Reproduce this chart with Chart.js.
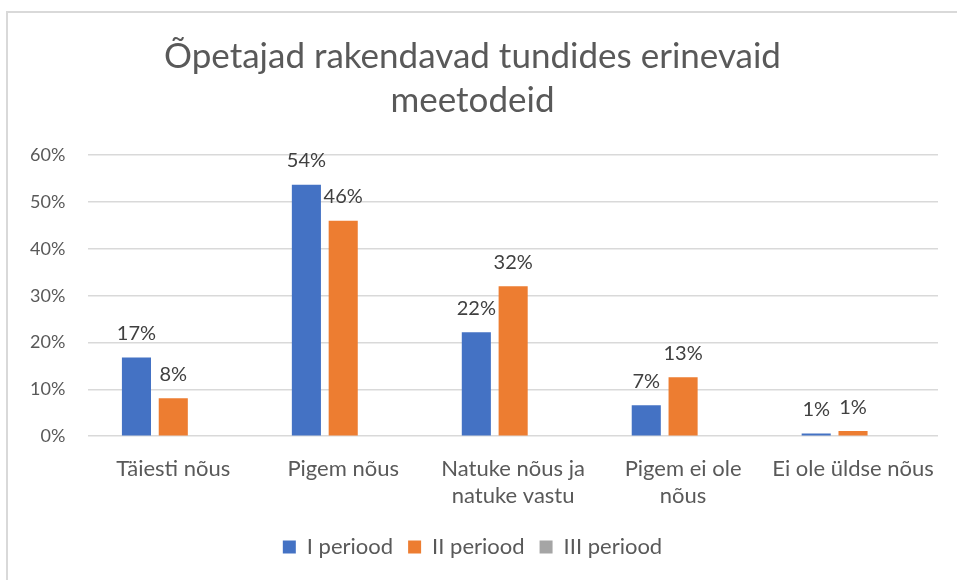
<!DOCTYPE html>
<html>
<head>
<meta charset="utf-8">
<script src="https://cdn.jsdelivr.net/npm/chart.js@4.4.1/dist/chart.umd.min.js"></script>
<style>
    body { margin: 0; background: #fff; overflow: hidden; }
    #wrap { position: absolute; left: 0; top: 0; width: 957px; height: 580px; }
    #frame { position: absolute; left: 6px; top: 11px; width: 960px; height: 600px; border: 2px solid #d9d9d9; box-sizing: border-box; }
</style>
</head>
<body>
<div id="wrap">
    <div id="frame"></div>
    <canvas id="chart" width="957" height="580"></canvas>
</div>
<script>
const titleLines = ['Õpetajad rakendavad tundides erinevaid', 'meetodeid']
const categories = [
    'Täiesti nõus',
    'Pigem nõus',
    ['Natuke nõus ja', 'natuke vastu'],
    ['Pigem ei ole', 'nõus'],
    'Ei ole üldse nõus'
]
const period1 = [16.8, 53.7, 22.2, 6.6, 0.6]
const period2 = [8.1, 46.0, 32.0, 12.6, 1.1]
const period3 = [null, null, null, null, null]
const seriesNames = ['I periood', 'II periood', 'III periood']
const colors = ['#4472c4', '#ed7d31', '#a5a5a5']

const fontFamily = 'Lato, "Open Sans", sans-serif'

// labels au-dessus des barres, comme Excel
const barLabels = {
    id: 'barLabels',
    afterDatasetsDraw(chart) {
        const ctx = chart.ctx
        ctx.save()
        ctx.font = `20px ${fontFamily}`
        ctx.fillStyle = '#404040'
        ctx.textAlign = 'center'
        ctx.textBaseline = 'middle'
        chart.data.datasets.forEach((ds, i) => {
            const meta = chart.getDatasetMeta(i)
            meta.data.forEach((bar, j) => {
                const v = ds.data[j]
                if (v === null) return
                ctx.fillText(`${Math.round(v)}%`, bar.x, bar.y - 24)
            })
        })
        ctx.restore()
    }
}

const ctx = document.getElementById('chart').getContext('2d')
new Chart(ctx, {
    type: 'bar',
    data: {
        labels: categories,
        datasets: [period1, period2, period3].map((d, i) => ({
            label: seriesNames[i],
            data: d,
            backgroundColor: colors[i],
            categoryPercentage: 0.65,
            barPercentage: 0.79
        }))
    },
    options: {
        responsive: false,
        animation: false,
        layout: { padding: { left: 7, right: 19, top: 35, bottom: 12 } },
        plugins: {
            title: {
                display: true,
                text: titleLines,
                color: '#595959',
                font: { family: fontFamily, size: 35, weight: 'normal', lineHeight: 1.26 },
                padding: { top: 0, bottom: 32 }
            },
            legend: {
                position: 'bottom',
                labels: {
                    color: '#595959',
                    font: { family: fontFamily, size: 22 },
                    boxWidth: 13,
                    boxHeight: 13,
                    padding: 15
                }
            },
            tooltip: { enabled: false }
        },
        scales: {
            x: {
                grid: { display: false },
                border: { display: false },
                ticks: {
                    color: '#595959',
                    font: { family: fontFamily, size: 22, lineHeight: 1.2 },
                    padding: 12,
                    maxRotation: 0
                }
            },
            y: {
                min: 0,
                max: 60,
                border: { display: false },
                grid: { color: '#d9d9d9', lineWidth: 1.5, drawTicks: false },
                ticks: {
                    stepSize: 10,
                    color: '#595959',
                    font: { family: fontFamily, size: 18 },
                    padding: 23,
                    callback: v => `${v}%`
                }
            }
        }
    },
    plugins: [barLabels]
})
</script>
</body>
</html>
